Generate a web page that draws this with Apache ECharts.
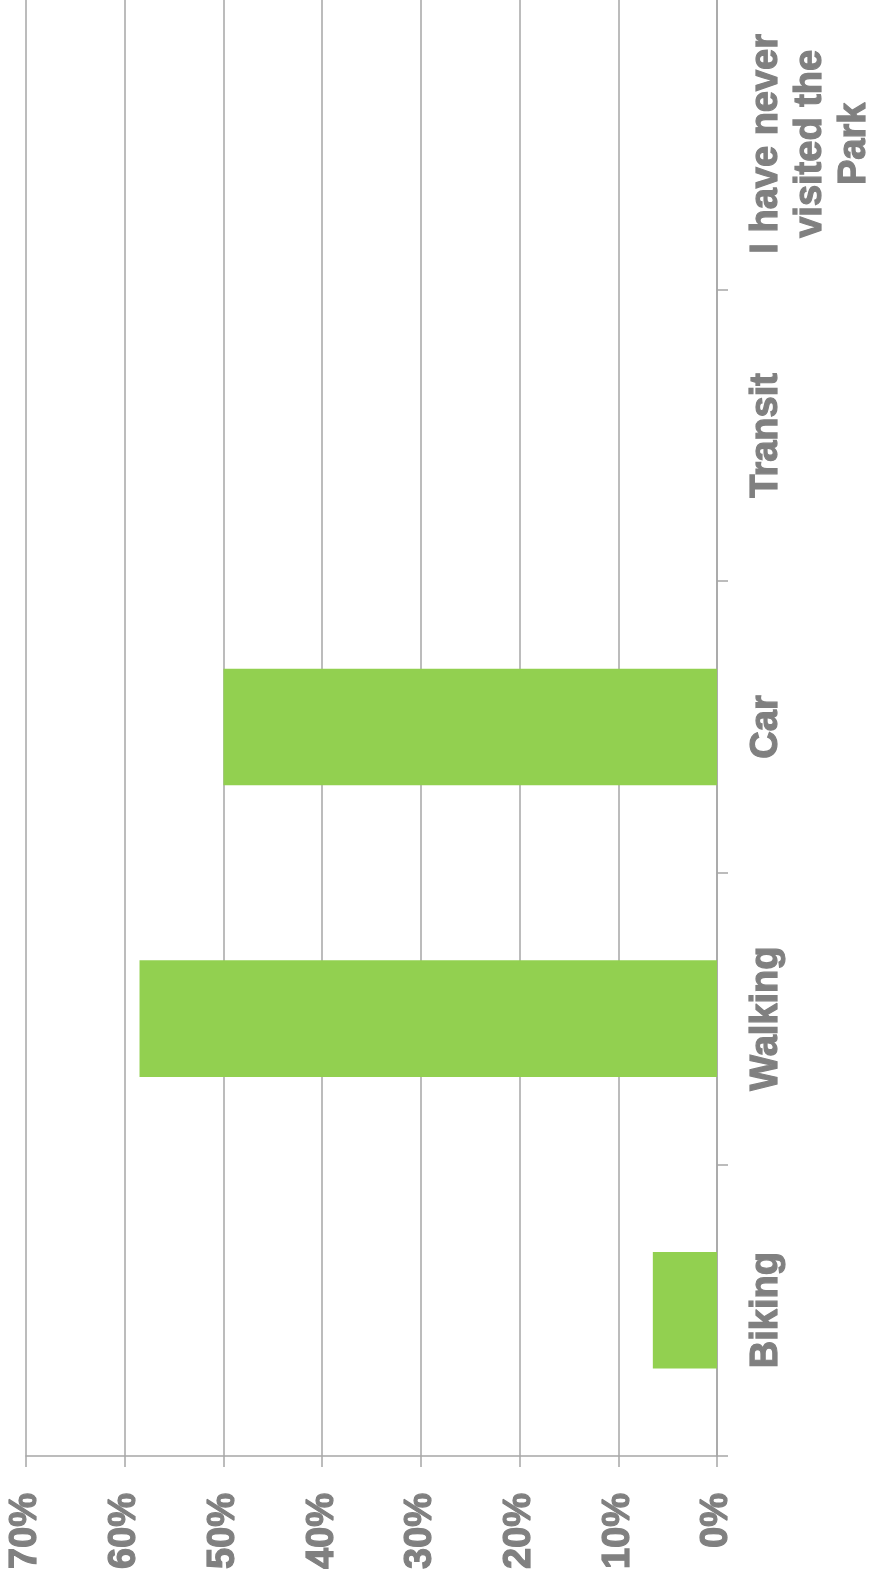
<!DOCTYPE html>
<html>
<head>
<meta charset="utf-8">
<script src="https://cdn.jsdelivr.net/npm/echarts@6/dist/echarts.min.js"></script>
<style>
  html, body { margin: 0; padding: 0; background: #ffffff; }
  #chart { width: 870px; height: 1585px; }
</style>
</head>
<body>
<div id="chart"></div>
<script>
const categories = ['Biking', 'Walking', 'Car', 'Transit', 'I have never visited the Park'];
const categoryLabels = ['Biking', 'Walking', 'Car', 'Transit', 'I have never\nvisited the\nPark'];
const shareValues = [6.5, 58.5, 50, 0, 0];
const valueTicks = { min: 0, max: 70, interval: 10 };

const chart = echarts.init(document.getElementById('chart'), null, { renderer: 'canvas' });
const labelFont = {
  color: '#808080',
  fontFamily: '"Liberation Sans", Arial, sans-serif',
  fontWeight: 'bold',
  fontSize: 38,
  textBorderColor: '#808080',
  textBorderWidth: 1.2
};
chart.setOption({
  animation: false,
  backgroundColor: '#ffffff',
  grid: { left: 26, right: 153, top: -2, bottom: 129, containLabel: false, outerBoundsMode: 'none' },
  xAxis: {
    type: 'value',
    inverse: true,
    min: valueTicks.min,
    max: valueTicks.max,
    interval: valueTicks.interval,
    position: 'bottom',
    axisLine: { show: true, lineStyle: { color: '#a6a6a6', width: 1.5 } },
    axisTick: { show: true, length: 11, lineStyle: { color: '#a6a6a6', width: 1.5 } },
    splitLine: { show: true, lineStyle: { color: '#a6a6a6', width: 1.5 } },
    axisLabel: Object.assign({
      rotate: 90,
      margin: 37,
      formatter: '{value}%'
    }, labelFont)
  },
  yAxis: {
    type: 'category',
    data: categories,
    position: 'right',
    boundaryGap: true,
    axisLine: { show: true, lineStyle: { color: '#a6a6a6', width: 1.5 } },
    axisTick: { show: true, length: 11, alignWithLabel: false, lineStyle: { color: '#a6a6a6', width: 1.5 } },
    splitLine: { show: false },
    axisLabel: Object.assign({
      rotate: 90,
      margin: 28,
      lineHeight: 44,
      interval: 0,
      align: 'center',
      formatter: function (v, i) { return categoryLabels[i]; }
    }, labelFont)
  },
  series: [{
    type: 'bar',
    data: shareValues,
    barWidth: '40%',
    itemStyle: { color: '#92d050' }
  }]
});
</script>
</body>
</html>
